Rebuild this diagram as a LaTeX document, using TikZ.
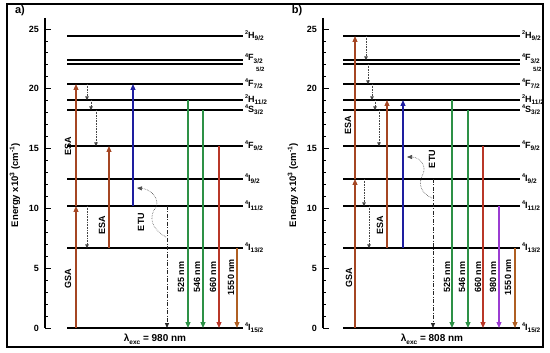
\documentclass[tikz,border=0pt]{standalone}
\usepackage{fontspec}
\setmainfont{Liberation Sans}
\usetikzlibrary{arrows.meta}
\definecolor{brn}{RGB}{165,70,35}
\definecolor{redb}{RGB}{185,55,40}
\definecolor{orb}{RGB}{175,95,35}
\definecolor{grn}{RGB}{45,145,70}
\definecolor{blu}{RGB}{30,30,160}
\definecolor{pur}{RGB}{155,60,210}
\newcommand\lab[3]{\raisebox{0.75ex}{\fontsize{5.5}{6}\selectfont #1}#2\raisebox{-0.55ex}{\fontsize{6.5}{7}\selectfont #3}}
\tikzset{
  lvl/.style={line width=1.3pt},
  lvltxt/.style={anchor=west, font=\bfseries\fontsize{9}{10}\selectfont, inner sep=1.5pt},
  axisln/.style={line width=1.3pt},
  up/.style={line width=1.1pt, -{Triangle[length=6pt,width=5pt]}},
  nr/.style={densely dotted, line width=0.6pt, gray!55!black, -{Triangle[length=3.5pt,width=3.5pt]}},
  dd/.style={dash pattern=on 4pt off 1.5pt on 1pt off 1.5pt, line width=0.8pt, gray!30!black, -{Triangle[length=5pt,width=4pt]}},
  cur/.style={densely dotted, line width=0.6pt, gray!60!black, -{Triangle[length=5pt,width=4pt]}},
  rt/.style={rotate=90, font=\bfseries\fontsize{9}{10}\selectfont, inner sep=0pt},
  tl/.style={anchor=east, font=\bfseries\fontsize{9}{10}\selectfont, inner sep=0pt},
  ttl/.style={rotate=90, font=\bfseries\fontsize{9.5}{11}\selectfont, inner sep=0pt},
  half/.style={anchor=west, font=\bfseries\fontsize{6}{6}\selectfont, inner sep=0pt},
}
\begin{document}
\begin{tikzpicture}[x=1pt,y=-1pt]
\useasboundingbox (0,0) rectangle (550,353);
\draw[line width=1.2pt] (7,4) rectangle (543,347);

% ================= panel a =================
\node[font=\bfseries\fontsize{11}{12}\selectfont] (pa) at (20,11) {a)};
\draw[axisln] (45,18) -- (45,328);
\foreach \v in {0,...,25}{\draw[line width=0.9pt] (45,328-11.96*\v) -- (48,328-11.96*\v);}
\foreach \v in {0,5,...,25}{\draw[line width=0.9pt] (45,328-11.96*\v) -- (51,328-11.96*\v);
  \node[tl] at (39,328-11.96*\v) {\v};}
\node[ttl] (ya) at (15,185) {Energy x10\textsuperscript{3} (cm\textsuperscript{-1})};

\draw[lvl] (67,36) coordinate (aH9) -- (243,36) node[lvltxt] (taH9) {\lab{2}{H}{9/2}};
\draw[lvl] (67,60) coordinate (aF3) -- (243,60) node[lvltxt, yshift=1.5pt] (taF3) {\lab{4}{F}{3/2}};
\draw[lvl] (67,64) coordinate (aF5) -- (243,64);
\node[half] (taF5) at (256,69.5) {5/2};
\draw[lvl] (67,84) coordinate (aF7) -- (243,84) node[lvltxt] (taF7) {\lab{4}{F}{7/2}};
\draw[lvl] (67,100) coordinate (aH11) -- (243,100) node[lvltxt] (taH11) {\lab{2}{H}{11/2}};
\draw[lvl] (67,110) coordinate (aS3) -- (243,110) node[lvltxt] (taS3) {\lab{4}{S}{3/2}};
\draw[lvl] (67,146) coordinate (aF9) -- (243,146) node[lvltxt] (taF9) {\lab{4}{F}{9/2}};
\draw[lvl] (67,179) coordinate (aI9) -- (243,179) node[lvltxt] (taI9) {\lab{4}{I}{9/2}};
\draw[lvl] (67,206) coordinate (aI11) -- (243,206) node[lvltxt] (taI11) {\lab{4}{I}{11/2}};
\draw[lvl] (67,248) coordinate (aI13) -- (243,248) node[lvltxt] (taI13) {\lab{4}{I}{13/2}};
\draw[lvl] (67,328) coordinate (aI15) -- (243,328) node[lvltxt] (taI15) {\lab{4}{I}{15/2}};

\draw[up, brn] (76,0 |- aI15) -- (76,0 |- aI11);
\draw[up, brn] (76,0 |- aI11) -- (76,0 |- aF7);
\draw[up, brn] (109,0 |- aI13) -- (109,0 |- aF9);
\draw[up, blu] (133,0 |- aI11) -- (133,0 |- aF7);
\draw[nr] (87,0 |- aF7) -- (87,0 |- aH11);
\draw[nr] (91,0 |- aH11) -- (91,0 |- aS3);
\draw[nr] (96,0 |- aS3) -- (96,0 |- aF9);
\draw[nr] (87,0 |- aI11) -- (87,0 |- aI13);
\draw[dd] (167,0 |- aI11) -- (167,0 |- aI15);
\coordinate (acs) at (166,237);
\coordinate (ace) at (137,188);
\draw[cur] (acs) .. controls (150,228) and (149,216) .. (156,207) .. controls (160,198) and (150,189) .. (ace);
\draw[up, grn] (188,0 |- aH11) -- (188,0 |- aI15);
\draw[up, grn] (203,0 |- aS3) -- (203,0 |- aI15);
\draw[up, redb] (219,0 |- aF9) -- (219,0 |- aI15);
\draw[up, orb] (237,0 |- aI13) -- (237,0 |- aI15);

\node[rt] (aGSA) at (68,279) {GSA};
\node[rt] (aESA1) at (68,146) {ESA};
\node[rt] (aESA2) at (102,225) {ESA};
\node[rt] (aETU) at (141,222) {ETU};
\node[rt] (a525) at (181,277) {525 nm};
\node[rt] (a546) at (197,277) {546 nm};
\node[rt] (a660) at (213,277) {660 nm};
\node[rt] (a1550) at (231,277) {1550 nm};
\node[font=\bfseries\fontsize{10}{11}\selectfont] (aexc) at (155,339) {λ\raisebox{-0.6ex}{\fontsize{6.5}{7}\selectfont exc} = 980 nm};

% ================= panel b =================
\node[font=\bfseries\fontsize{11}{12}\selectfont] (pb) at (297,11) {b)};
\draw[axisln] (323,18) -- (323,328);
\foreach \v in {0,...,25}{\draw[line width=0.9pt] (323,328-11.96*\v) -- (326,328-11.96*\v);}
\foreach \v in {0,5,...,25}{\draw[line width=0.9pt] (323,328-11.96*\v) -- (329,328-11.96*\v);
  \node[tl] at (317,328-11.96*\v) {\v};}
\node[ttl] (yb) at (293,185) {Energy x10\textsuperscript{3} (cm\textsuperscript{-1})};

\draw[lvl] (343,36) coordinate (bH9) -- (520,36) node[lvltxt] (tbH9) {\lab{2}{H}{9/2}};
\draw[lvl] (343,60) coordinate (bF3) -- (520,60) node[lvltxt, yshift=1.5pt] (tbF3) {\lab{4}{F}{3/2}};
\draw[lvl] (343,64) coordinate (bF5) -- (520,64);
\node[half] (tbF5) at (533,69.5) {5/2};
\draw[lvl] (343,84) coordinate (bF7) -- (520,84) node[lvltxt] (tbF7) {\lab{4}{F}{7/2}};
\draw[lvl] (343,100) coordinate (bH11) -- (520,100) node[lvltxt] (tbH11) {\lab{2}{H}{11/2}};
\draw[lvl] (343,110) coordinate (bS3) -- (520,110) node[lvltxt] (tbS3) {\lab{4}{S}{3/2}};
\draw[lvl] (343,146) coordinate (bF9) -- (520,146) node[lvltxt] (tbF9) {\lab{4}{F}{9/2}};
\draw[lvl] (343,179) coordinate (bI9) -- (520,179) node[lvltxt] (tbI9) {\lab{4}{I}{9/2}};
\draw[lvl] (343,206) coordinate (bI11) -- (520,206) node[lvltxt] (tbI11) {\lab{4}{I}{11/2}};
\draw[lvl] (343,248) coordinate (bI13) -- (520,248) node[lvltxt] (tbI13) {\lab{4}{I}{13/2}};
\draw[lvl] (343,328) coordinate (bI15) -- (520,328) node[lvltxt] (tbI15) {\lab{4}{I}{15/2}};

\draw[up, brn] (355,0 |- bI15) -- (355,0 |- bI9);
\draw[up, brn] (355,0 |- bI9) -- (355,0 |- bH9);
\draw[up, brn] (387,0 |- bI13) -- (387,0 |- bH11);
\draw[up, blu] (403,0 |- bI13) -- (403,0 |- bH11);
\draw[nr] (366,0 |- bH9) -- (366,0 |- bF3);
\draw[nr] (368,0 |- bF5) -- (368,0 |- bF7);
\draw[nr] (372,0 |- bF7) -- (372,0 |- bH11);
\draw[nr] (375,0 |- bH11) -- (375,0 |- bS3);
\draw[nr] (379,0 |- bS3) -- (379,0 |- bF9);
\draw[nr] (364,0 |- bI9) -- (364,0 |- bI11);
\draw[nr] (369,0 |- bI11) -- (369,0 |- bI13);
\draw[dd] (433,0 |- bI9) -- (433,0 |- bI15);
\coordinate (bcs) at (432,198);
\coordinate (bce) at (407,157);
\draw[cur] (bcs) .. controls (420,193) and (418,183) .. (423,174) .. controls (427,165) and (419,157) .. (bce);
\draw[up, grn] (452,0 |- bH11) -- (452,0 |- bI15);
\draw[up, grn] (468,0 |- bS3) -- (468,0 |- bI15);
\draw[up, redb] (483,0 |- bF9) -- (483,0 |- bI15);
\draw[up, pur] (499,0 |- bI11) -- (499,0 |- bI15);
\draw[up, orb] (515,0 |- bI13) -- (515,0 |- bI15);

\node[rt] (bGSA) at (349,278) {GSA};
\node[rt] (bESA1) at (348,125) {ESA};
\node[rt] (bESA2) at (380,225) {ESA};
\node[rt] (bETU) at (432,159) {ETU};
\node[rt] (b525) at (447,277) {525 nm};
\node[rt] (b546) at (462,277) {546 nm};
\node[rt] (b660) at (478,277) {660 nm};
\node[rt] (b980) at (493,277) {980 nm};
\node[rt] (b1550) at (508,277) {1550 nm};
\node[font=\bfseries\fontsize{10}{11}\selectfont] (bexc) at (432,339) {λ\raisebox{-0.6ex}{\fontsize{6.5}{7}\selectfont exc} = 808 nm};
\end{tikzpicture}
\end{document}
